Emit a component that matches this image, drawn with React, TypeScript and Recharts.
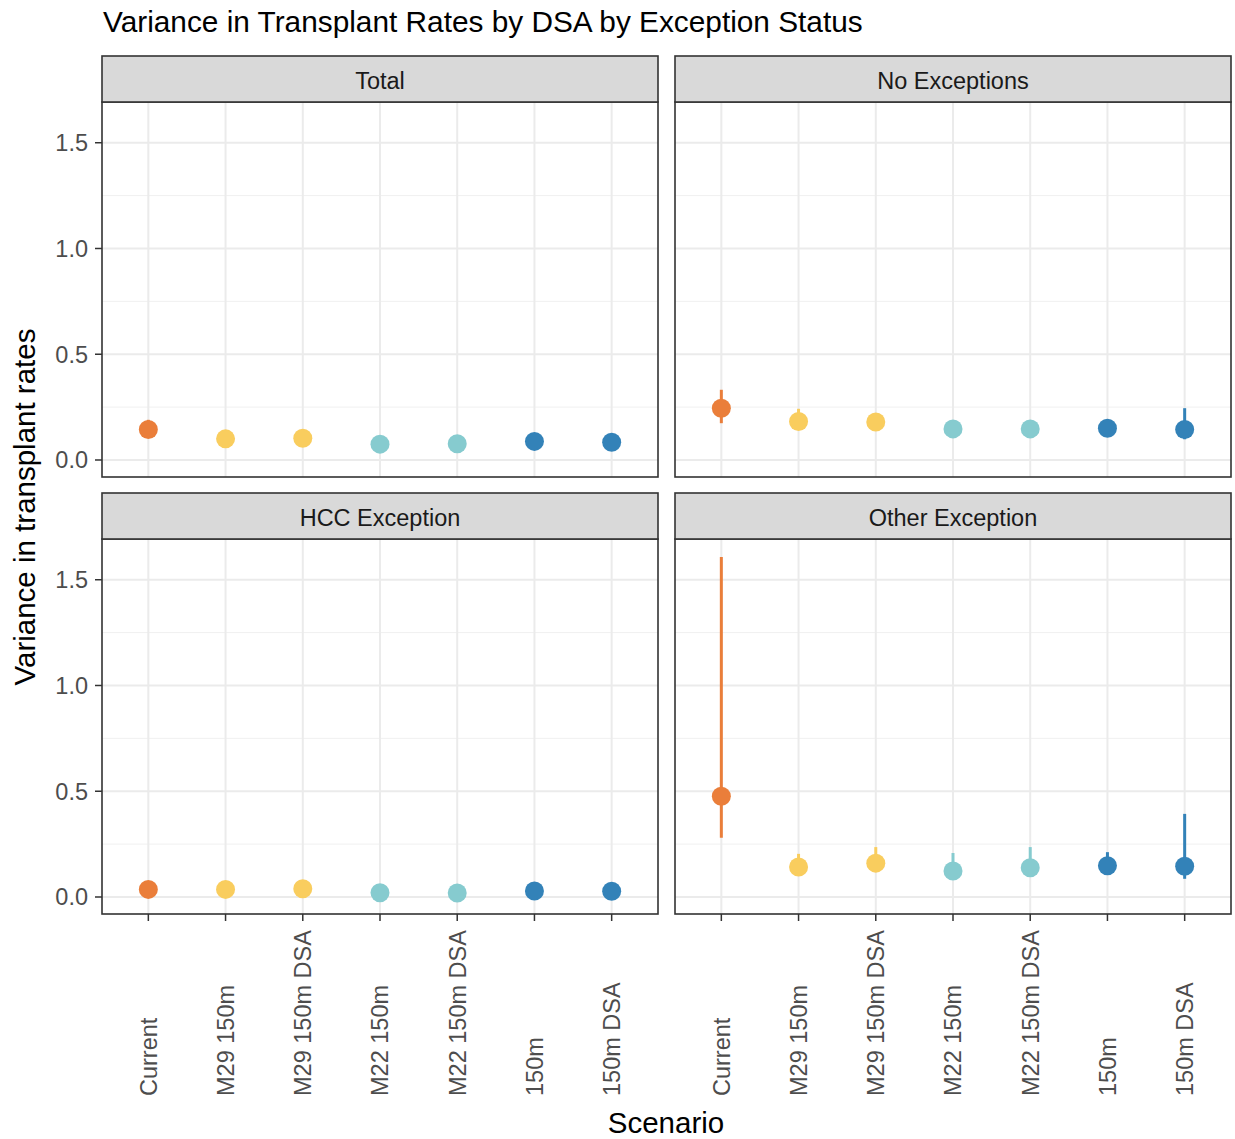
import React from "react";
import { ComposedChart, Scatter, XAxis, YAxis, CartesianGrid, ErrorBar } from "recharts";

const categories = ["Current", "M29 150m", "M29 150m DSA", "M22 150m", "M22 150m DSA", "150m", "150m DSA"];
const groupOf = ["current", "m29", "m29", "m22", "m22", "s150", "s150"];
const groupColors: Record<string, string> = {
  current: "#EA7E3A",
  m29: "#F9CD5E",
  m22: "#86CBCF",
  s150: "#3382B8",
};
const groups = ["current", "m29", "m22", "s150"];

const totalValues = [0.144, 0.100, 0.103, 0.075, 0.077, 0.088, 0.084];
const totalLower = [0.11, 0.08, 0.085, 0.06, 0.06, 0.07, 0.068];
const totalUpper = [0.19, 0.13, 0.13, 0.10, 0.10, 0.11, 0.105];

const noExcValues = [0.245, 0.182, 0.180, 0.147, 0.147, 0.150, 0.144];
const noExcLower = [0.174, 0.15, 0.15, 0.12, 0.12, 0.12, 0.098];
const noExcUpper = [0.332, 0.242, 0.215, 0.18, 0.18, 0.185, 0.245];

const hccValues = [0.036, 0.036, 0.039, 0.020, 0.019, 0.028, 0.027];
const hccLower = [0.02, 0.02, 0.02, 0.005, 0.0, 0.012, 0.012];
const hccUpper = [0.06, 0.06, 0.065, 0.04, 0.04, 0.05, 0.05];

const otherValues = [0.476, 0.142, 0.160, 0.123, 0.138, 0.148, 0.145];
const otherLower = [0.280, 0.11, 0.125, 0.09, 0.105, 0.115, 0.086];
const otherUpper = [1.608, 0.204, 0.236, 0.208, 0.236, 0.212, 0.393];

const yTicks = [0, 0.5, 1.0, 1.5];
const yMinor = [0.25, 0.75, 1.25];
const xTicks = categories.map((_, i) => i);

const FONT = "'Liberation Sans', Arial, Helvetica, sans-serif";
const PW = 556;
const PH = 375;
const YW = 100;
const XH = 200;

function buildRows(values: number[], lower: number[], upper: number[]) {
  return values.map((v, i) => ({
    x: i,
    y: v,
    err: [v - lower[i], upper[i] - v],
    group: groupOf[i],
  }));
}

const XTick = (props: any) => {
  const { x, y, payload } = props;
  return (
    <text
      transform={`translate(${x},${y + 173}) rotate(-90)`}
      textAnchor="start"
      dy="0.36em"
      fontSize={23.5}
      fill="#4D4D4D"
      fontFamily={FONT}
    >
      {categories[payload.value]}
    </text>
  );
};

type PanelProps = {
  x0: number;
  y0: number;
  showY: boolean;
  showX: boolean;
  values: number[];
  lower: number[];
  upper: number[];
};

function Panel({ x0, y0, showY, showX, values, lower, upper }: PanelProps) {
  const rows = buildRows(values, lower, upper);
  const w = PW + (showY ? YW : 0);
  const h = PH + (showX ? XH : 0);
  return (
    <div style={{ position: "absolute", left: x0 - (showY ? YW : 0), top: y0, width: w, height: h }}>
      <ComposedChart width={w} height={h} margin={{ top: 0, right: 0, bottom: 0, left: 0 }}>
        <CartesianGrid
          stroke="#F0F0F0"
          strokeWidth={1}
          vertical={false}
          horizontalValues={yMinor}
        />
        <CartesianGrid
          stroke="#EBEBEB"
          strokeWidth={2}
          horizontalValues={yTicks}
          verticalValues={xTicks}
        />
        <XAxis
          type="number"
          dataKey="x"
          domain={[-0.6, 6.6]}
          ticks={xTicks}
          allowDataOverflow
          hide={!showX}
          height={XH}
          axisLine={false}
          tickLine={{ stroke: "#333333", strokeWidth: 1.5 }}
          tickSize={7}
          tick={<XTick />}
          interval={0}
        />
        <YAxis
          type="number"
          dataKey="y"
          domain={[-0.0804, 1.6926]}
          ticks={yTicks}
          allowDataOverflow
          hide={!showY}
          width={YW}
          axisLine={false}
          tickLine={{ stroke: "#333333", strokeWidth: 1.5 }}
          tickSize={7}
          tickMargin={7}
          tickFormatter={(v: number) => v.toFixed(1)}
          tick={{ fontSize: 23.5, fill: "#4D4D4D", fontFamily: FONT }}
        />
        {groups.map((g) => (
          <Scatter
            key={g}
            data={rows.filter((r) => r.group === g)}
            dataKey="y"
            fill={groupColors[g]}
            isAnimationActive={false}
            shape={(p: any) => <circle cx={p.cx} cy={p.cy} r={9.5} fill={groupColors[g]} />}
          >
            <ErrorBar
              dataKey="err"
              direction="y"
              width={0}
              stroke={groupColors[g]}
              strokeWidth={3}
              isAnimationActive={false}
            />
          </Scatter>
        ))}
      </ComposedChart>
    </div>
  );
}

const panels = [
  { title: "Total", x0: 102, y0: 102, sy: 56, showY: true, showX: false, values: totalValues, lower: totalLower, upper: totalUpper },
  { title: "No Exceptions", x0: 675, y0: 102, sy: 56, showY: false, showX: false, values: noExcValues, lower: noExcLower, upper: noExcUpper },
  { title: "HCC Exception", x0: 102, y0: 539, sy: 493, showY: true, showX: true, values: hccValues, lower: hccLower, upper: hccUpper },
  { title: "Other Exception", x0: 675, y0: 539, sy: 493, showY: false, showX: true, values: otherValues, lower: otherLower, upper: otherUpper },
];

export default function App() {
  return (
    <div style={{ position: "absolute", left: 0, top: 0, width: 1235, height: 1139, background: "#FFFFFF", fontFamily: FONT }}>
      {panels.map((p) => (
        <Panel key={p.title} x0={p.x0} y0={p.y0} showY={p.showY} showX={p.showX} values={p.values} lower={p.lower} upper={p.upper} />
      ))}
      <svg width={1235} height={1139} style={{ position: "absolute", left: 0, top: 0, pointerEvents: "none" }}>
        <text x={103} y={32} fontSize={29.8} fill="#000000" fontFamily={FONT}>
          Variance in Transplant Rates by DSA by Exception Status
        </text>
        {panels.map((p) => (
          <g key={p.title}>
            <rect x={p.x0} y={p.y0} width={PW} height={PH} fill="none" stroke="#333333" strokeWidth={1.6} />
            <rect x={p.x0} y={p.sy} width={PW} height={p.y0 - p.sy} fill="#D9D9D9" stroke="#333333" strokeWidth={1.6} />
            <text
              x={p.x0 + PW / 2}
              y={p.sy + (p.y0 - p.sy) / 2 + 2}
              dy="0.36em"
              textAnchor="middle"
              fontSize={23.5}
              fill="#1A1A1A"
              fontFamily={FONT}
            >
              {p.title}
            </text>
          </g>
        ))}
        <text
          transform="translate(35,507) rotate(-90)"
          textAnchor="middle"
          fontSize={29.5}
          fill="#000000"
          fontFamily={FONT}
        >
          Variance in transplant rates
        </text>
        <text x={666} y={1133} textAnchor="middle" fontSize={29.5} fill="#000000" fontFamily={FONT}>
          Scenario
        </text>
      </svg>
    </div>
  );
}
